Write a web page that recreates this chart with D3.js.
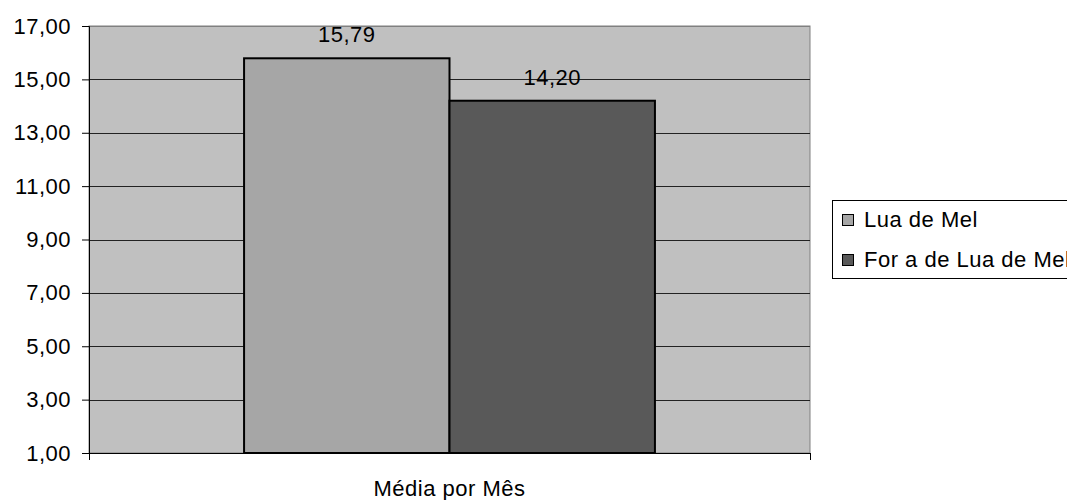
<!DOCTYPE html>
<html><head><meta charset="utf-8">
<script src="https://cdn.jsdelivr.net/npm/d3@7"></script>
<style>body{margin:0;background:#fff}svg{display:block;font-family:"Liberation Sans",Arial,sans-serif}svg text{letter-spacing:0.5px}</style>
</head><body><svg id="c" width="1067" height="500"></svg>
<script>
const categories = ["Média por Mês"];
const seriesNames = ["Lua de Mel", "For a de Lua de Mel"];
const seriesValues = [15.79, 14.20];
const seriesColors = ["#a6a6a6", "#595959"];
const yTicks = [1, 3, 5, 7, 9, 11, 13, 15, 17];
const fmt = v => d3.format(".2f")(v).replace(".", ",");

const svg = d3.select("#c");
const L = 89, R = 810, T = 26, B = 453;
const FS = 22;
const y = d3.scaleLinear().domain([1, 17]).range([B, T]);
const x0 = d3.scaleBand().domain(categories).range([L, R]).padding(0.274);
const x1 = d3.scaleBand().domain(seriesNames).range([0, x0.bandwidth()]);

svg.append("rect").attr("x", L).attr("y", T).attr("width", R - L).attr("height", B - T)
  .attr("fill", "#c0c0c0").attr("stroke", "#808080").attr("stroke-width", 1);

svg.append("g").selectAll("line").data(yTicks.slice(1)).join("line")
  .attr("x1", L).attr("x2", R).attr("y1", d => Math.round(y(d)) + 0.5).attr("y2", d => Math.round(y(d)) + 0.5)
  .attr("stroke", d => d === 17 ? "#808080" : "#222").attr("stroke-width", 1);

const yAxis = svg.append("g").attr("transform", `translate(${L},0)`)
  .call(d3.axisLeft(y).tickValues(yTicks).tickFormat(fmt).tickSize(7).tickPadding(11));
yAxis.select(".domain").attr("stroke", "#000");
yAxis.selectAll("text").attr("font-size", FS).attr("fill", "#000").attr("font-family", "Liberation Sans, Arial, sans-serif");
yAxis.selectAll(".tick line").attr("stroke", "#000");

const g = svg.append("g");
categories.forEach((c, ci) => {
  seriesNames.forEach((s, si) => {
    const v = seriesValues[si];
    g.append("rect").attr("x", x0(c) + x1(s)).attr("y", y(v))
      .attr("width", x1.bandwidth()).attr("height", y(1) - y(v))
      .attr("fill", seriesColors[si]).attr("stroke", "#000").attr("stroke-width", 2);
    g.append("text").attr("x", x0(c) + x1(s) + x1.bandwidth() / 2).attr("y", y(v) - 16)
      .attr("text-anchor", "middle").attr("font-size", FS).attr("fill", "#000").text(fmt(v));
  });
});

const xAxis = svg.append("g").attr("transform", `translate(0,${B})`)
  .call(d3.axisBottom(d3.scalePoint().domain(["a","b"]).range([L, R])).tickSize(7).tickFormat(""));
xAxis.select(".domain").attr("stroke", "#000");
xAxis.selectAll(".tick line").attr("stroke", "#000");
svg.append("text").attr("x", x0(categories[0]) + x0.bandwidth() / 2).attr("y", 496)
  .attr("text-anchor", "middle").attr("font-size", FS).text(categories[0]);

const lg = svg.append("g");
lg.append("rect").attr("x", 832.5).attr("y", 200.5).attr("width", 260).attr("height", 78)
  .attr("fill", "#fff").attr("stroke", "#000");
seriesNames.forEach((s, i) => {
  const yy = 214 + i * 40;
  lg.append("rect").attr("x", 842.5).attr("y", yy + 0.5).attr("width", 11).attr("height", 11)
    .attr("fill", seriesColors[i]).attr("stroke", "#000");
  lg.append("text").attr("x", 864).attr("y", yy + 13).attr("font-size", FS).text(s);
});
</script></body></html>
